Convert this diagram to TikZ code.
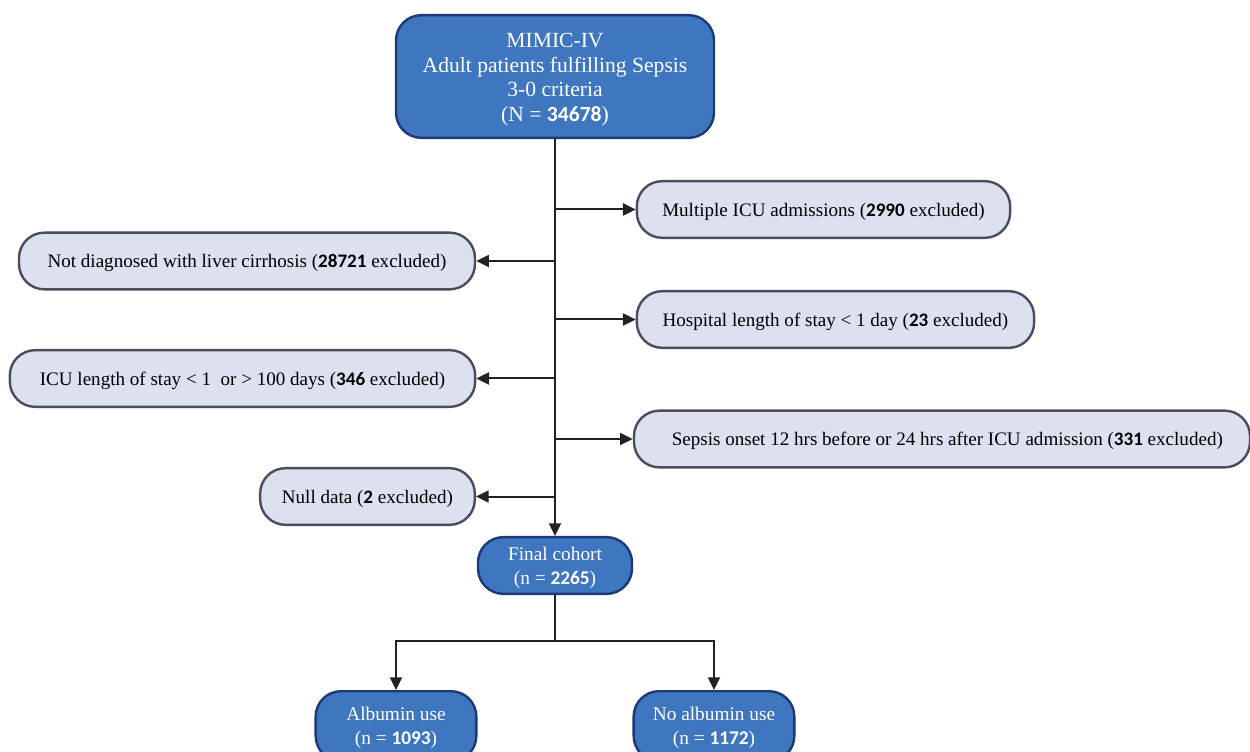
\documentclass[tikz,border=0pt]{standalone}
\usepackage{fontspec}
\setmainfont{Liberation Serif}
\newfontfamily\numfont{Carlito}
\usetikzlibrary{arrows.meta}
\definecolor{bluefill}{HTML}{3F76C0}
\definecolor{blueedge}{HTML}{1C3A78}
\definecolor{greyfill}{HTML}{DDE0EF}
\definecolor{greyedge}{HTML}{4C4C5E}
\definecolor{linecol}{HTML}{222222}
\newcommand{\nb}[1]{{\numfont\bfseries #1}}
\newcommand{\lowered}[2]{\raisebox{-#1}[\height][\depth]{\begin{tabular}{@{}c@{}}#2\end{tabular}}}
\tikzset{
  x=0.75pt, y=-0.75pt,
  bluebox/.style={draw=blueedge, fill=bluefill, line width=1.8pt, rounded corners=19pt,
    text=white, font=\fontsize{14.5}{18}\selectfont, align=center, inner sep=0pt},
  greybox/.style={draw=greyedge, fill=greyfill, line width=1.8pt, rounded corners=19pt,
    text=black, font=\fontsize{14.3}{17}\selectfont, align=center, inner sep=0pt,
    minimum height=42.5pt},
  conn/.style={draw=linecol, line width=1.5pt},
  arr/.style={conn, -{Triangle[length=9.5pt,width=9pt]}}
}
\begin{document}
\begin{tikzpicture}
\useasboundingbox (0,0) rectangle (1250,752);
\clip (0,0) rectangle (1250,752);
\fill[white] (0,0) rectangle (1250,752);

\node[bluebox, minimum width=238.5pt, minimum height=92pt,
      font=\fontsize{16.2}{18.4}\selectfont] (top) at (555,76.5)
  {\lowered{2.4pt}{MIMIC-IV\\Adult patients fulfilling Sepsis\\3-0 criteria\\(N = \nb{34678})}};

\node[greybox, minimum width=280pt] (mult) at (823.5,209.5)
  {\lowered{1.5pt}{Multiple ICU admissions (\nb{2990} excluded)}};
\node[greybox, minimum width=342pt] (cirr) at (247,261)
  {\lowered{1.5pt}{Not diagnosed with liver cirrhosis (\nb{28721} excluded)}};
\node[greybox, minimum width=298pt] (hosp) at (835.5,319.5)
  {\lowered{1.5pt}{Hospital length of stay < 1 day (\nb{23} excluded)}};
\node[greybox, minimum width=349pt] (icu) at (242.5,378.5)
  {\lowered{1.5pt}{ICU length of stay < 1 \ or > 100 days (\nb{346} excluded)}};
\node[greybox, minimum width=462pt] (seps) at (942,439)
  {\lowered{1.5pt}{\hspace*{8pt}Sepsis onset 12 hrs before or 24 hrs after ICU admission (\nb{331} excluded)}};
\node[greybox, minimum width=161pt] (null) at (367.5,496.5)
  {\lowered{1.5pt}{Null data (\nb{2} excluded)}};

\node[bluebox, minimum width=115.5pt, minimum height=42.5pt] (final) at (555,565.5)
  {\lowered{1.5pt}{Final cohort\\(n = \nb{2265})}};

\node[bluebox, minimum width=120.5pt, minimum height=52.5pt, anchor=north] (alb) at (396,690)
  {\lowered{1.2pt}{Albumin use\\(n = \nb{1093})}};
\node[bluebox, minimum width=120.5pt, minimum height=52.5pt, anchor=north] (noalb) at (714,690)
  {\lowered{1.2pt}{No albumin use\\(n = \nb{1172})}};

\draw[arr] (top.south) -- (final.north);
\draw[arr] (mult.west -| top.south) -- (mult.west);
\draw[arr] (cirr.east -| top.south) -- (cirr.east);
\draw[arr] (hosp.west -| top.south) -- (hosp.west);
\draw[arr] (icu.east -| top.south) -- (icu.east);
\draw[arr] (seps.west -| top.south) -- (seps.west);
\draw[arr] (null.east -| top.south) -- (null.east);

\coordinate (split) at (555,641);
\draw[conn] (final.south) -- (split);
\draw[arr] (split) -| (alb.north);
\draw[arr] (split) -| (noalb.north);
\end{tikzpicture}
\end{document}
